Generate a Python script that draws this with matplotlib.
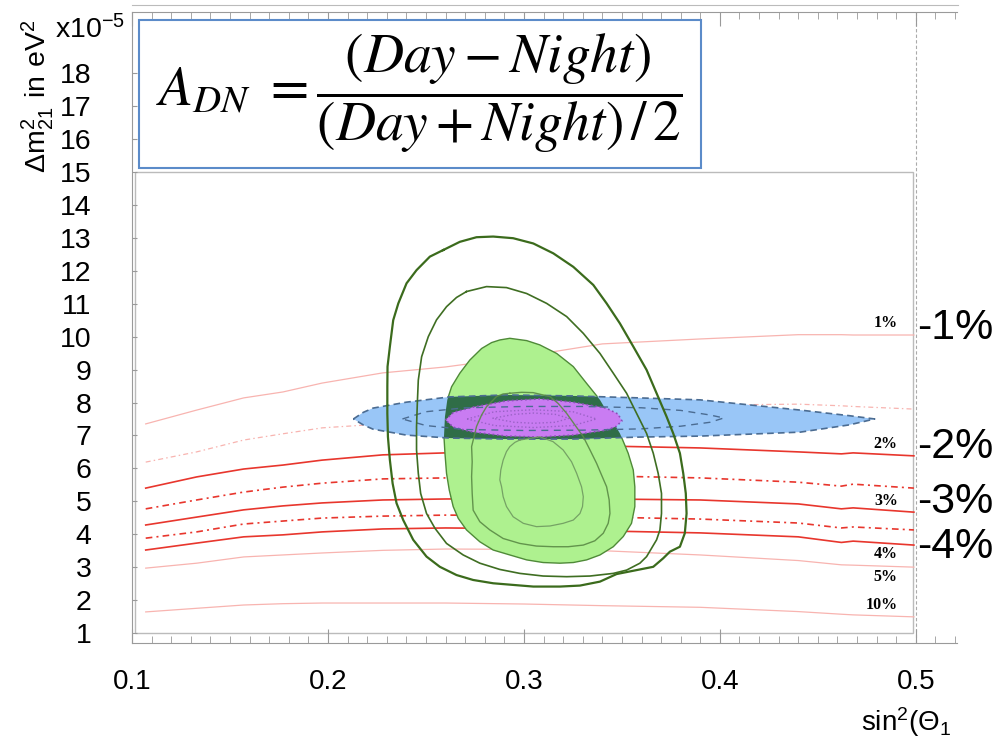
import numpy as np
import matplotlib.pyplot as plt
from matplotlib.patches import Polygon, Rectangle
from matplotlib.lines import Line2D

plt.rcParams['font.family'] = ['Liberation Sans', 'DejaVu Sans']

# iso-lines of the day/night asymmetry (sin^2 theta vs dm^2 in 1e-5 eV^2)
x_iso = [0.107, 0.133, 0.157, 0.177, 0.197, 0.228, 0.26, 0.30, 0.34, 0.39, 0.44, 0.462, 0.468, 0.499]
adn_1 = [7.35, 7.77, 8.14, 8.32, 8.59, 8.90, 9.08, 9.40, 9.78, 9.93, 10.06, 10.06, 10.05, 10.05]
adn_1p5 = [6.19, 6.50, 6.86, 7.05, 7.23, 7.35, 7.50, 7.65, 7.80, 7.92, 7.95, 7.90, 7.88, 7.80]
adn_2 = [5.40, 5.74, 5.98, 6.10, 6.25, 6.41, 6.47, 6.58, 6.68, 6.62, 6.50, 6.44, 6.47, 6.38]
adn_2p5 = [4.77, 5.04, 5.28, 5.43, 5.55, 5.68, 5.71, 5.75, 5.77, 5.71, 5.58, 5.46, 5.52, 5.40]
adn_3 = [4.28, 4.52, 4.74, 4.86, 4.95, 5.04, 5.07, 5.08, 5.07, 5.04, 4.92, 4.77, 4.80, 4.67]
adn_3p5 = [3.88, 4.07, 4.31, 4.40, 4.49, 4.55, 4.58, 4.57, 4.52, 4.46, 4.34, 4.19, 4.22, 4.13]
adn_4 = [3.52, 3.73, 3.92, 3.98, 4.07, 4.16, 4.19, 4.17, 4.10, 4.04, 3.92, 3.75, 3.79, 3.67]
adn_5 = [2.97, 3.12, 3.31, 3.37, 3.43, 3.51, 3.55, 3.54, 3.50, 3.37, 3.20, 3.07, 3.06, 3.00]
adn_10 = [1.64, 1.75, 1.85, 1.89, 1.91, 1.91, 1.91, 1.88, 1.83, 1.78, 1.65, 1.57, 1.55, 1.49]

iso_labels = ['1%', '2%', '3%', '4%', '5%', '10%']
iso_label_y = [10.41, 6.74, 5.01, 3.40, 2.70, 1.85]
asym_labels = ['-1%', '-2%', '-3%', '-4%']
asym_label_y = [10.26, 6.65, 4.98, 3.61]

# solar allowed region (filled) and contours
sk_x = [0.2877, 0.2928, 0.3014, 0.3081, 0.3167, 0.3252, 0.3320, 0.3388, 0.3439, 0.3490, 0.3532,
        0.3558, 0.3566, 0.3566, 0.3549, 0.3507, 0.3456, 0.3388, 0.3320, 0.3252, 0.3184, 0.3098,
        0.3014, 0.2928, 0.2843, 0.2775, 0.2707, 0.2665, 0.2639, 0.2619, 0.2605, 0.2597, 0.2592,
        0.2597, 0.2609, 0.2631, 0.2673, 0.2724, 0.2784, 0.2835]
sk_y = [9.90, 9.95, 9.88, 9.75, 9.49, 9.09, 8.58, 8.08, 7.57, 7.06, 6.46,
        5.95, 5.44, 4.84, 4.33, 3.93, 3.62, 3.37, 3.22, 3.14, 3.12, 3.14,
        3.22, 3.37, 3.52, 3.77, 4.13, 4.48, 4.84, 5.34, 5.85, 6.46, 6.96,
        7.57, 8.08, 8.48, 8.89, 9.29, 9.64, 9.82]

outer_x = [0.2588, 0.2673, 0.2758, 0.2843, 0.2945, 0.3048, 0.3150, 0.3252, 0.3354, 0.3422, 0.3490,
           0.3558, 0.3626, 0.3677, 0.3728, 0.3762, 0.3796, 0.3813, 0.3826, 0.3830, 0.3821, 0.3796,
           0.3745, 0.3711, 0.3660, 0.3558, 0.3473, 0.3388, 0.3286, 0.3184, 0.3048, 0.2945, 0.2843,
           0.2741, 0.2656, 0.2571, 0.2503, 0.2435, 0.2384, 0.2350, 0.2330, 0.2316, 0.2306, 0.2303,
           0.2303, 0.2304, 0.2316, 0.2333, 0.2359, 0.2401, 0.2452, 0.2520]
outer_y = [12.63, 12.88, 13.02, 13.04, 12.99, 12.83, 12.53, 12.12, 11.57, 11.01, 10.40,
           9.70, 8.99, 8.28, 7.57, 7.06, 6.46, 5.85, 5.24, 4.63, 4.03, 3.62,
           3.47, 3.27, 3.01, 2.89, 2.79, 2.56, 2.44, 2.41, 2.41, 2.46, 2.51,
           2.61, 2.76, 3.01, 3.32, 3.83, 4.43, 4.94, 5.54, 6.25, 6.96, 7.67,
           8.48, 9.09, 9.70, 10.50, 11.01, 11.62, 12.02, 12.43]
mid_x = [0.2707, 0.2809, 0.2911, 0.3014, 0.3116, 0.3218, 0.3303, 0.3388, 0.3456, 0.3524, 0.3575,
         0.3626, 0.3660, 0.3685, 0.3702, 0.3702, 0.3694, 0.3677, 0.3626, 0.3592, 0.3524, 0.3456,
         0.3337, 0.3218, 0.3098, 0.2979, 0.2877, 0.2775, 0.2690, 0.2605, 0.2546, 0.2503, 0.2473,
         0.2461, 0.2452, 0.2452, 0.2456, 0.2461, 0.2478, 0.2512, 0.2554, 0.2605, 0.2656]
mid_y = [11.37, 11.52, 11.49, 11.31, 11.01, 10.61, 10.10, 9.49, 8.89, 8.28, 7.67,
         7.06, 6.46, 5.85, 5.24, 4.63, 4.13, 3.83, 3.32, 3.12, 2.91, 2.81,
         2.73, 2.71, 2.73, 2.81, 2.93, 3.12, 3.37, 3.72, 4.18, 4.63, 5.24,
         5.85, 6.56, 7.27, 7.97, 8.68, 9.39, 10.00, 10.51, 10.91, 11.19]
in1_x = [0.2928, 0.2988, 0.3047, 0.3133, 0.3175, 0.3218, 0.3260, 0.3303, 0.3337, 0.3371, 0.3396,
         0.3422, 0.3435, 0.3439, 0.3430, 0.3405, 0.3362, 0.3303, 0.3226, 0.3150, 0.3064, 0.2979,
         0.2894, 0.2826, 0.2775, 0.2741, 0.2736, 0.2733, 0.2736, 0.2733, 0.2758, 0.2784, 0.2809,
         0.2860, 0.2894]
in1_y = [8.28, 8.31, 8.30, 8.18, 7.97, 7.67, 7.32, 6.96, 6.56, 6.15, 5.80,
         5.44, 5.04, 4.63, 4.33, 4.03, 3.80, 3.67, 3.62, 3.62, 3.64, 3.72,
         3.87, 4.13, 4.38, 4.73, 5.24, 5.75, 6.20, 6.66, 7.27, 7.62, 7.87,
         8.18, 8.26]
in2_x = [0.2979, 0.3081, 0.3149, 0.3200, 0.3243, 0.3269, 0.3294, 0.3303, 0.3299, 0.3286, 0.3252,
         0.3200, 0.3133, 0.3064, 0.2997, 0.2945, 0.2911, 0.2894, 0.2886, 0.2877, 0.2882, 0.2894,
         0.2911, 0.2928, 0.2954]
in2_y = [6.86, 6.96, 6.81, 6.56, 6.20, 5.85, 5.44, 5.14, 4.84, 4.63, 4.43,
         4.33, 4.25, 4.23, 4.33, 4.53, 4.84, 5.14, 5.44, 5.65, 5.95, 6.25,
         6.51, 6.66, 6.79]

# reactor allowed region (blue) and combined region (magenta)
kl_x = [0.213, 0.218, 0.223, 0.240, 0.262, 0.291, 0.325, 0.359, 0.390, 0.441, 0.466, 0.479,
        0.466, 0.441, 0.390, 0.359, 0.325, 0.291, 0.262, 0.240, 0.223, 0.218]
kl_y = [7.50, 7.70, 7.83, 8.01, 8.17, 8.23, 8.20, 8.14, 8.08, 7.77, 7.60, 7.50,
        7.32, 7.10, 6.98, 6.95, 6.89, 6.89, 6.92, 7.01, 7.19, 7.32]
kl_in_x = [0.238, 0.25, 0.27, 0.30, 0.33, 0.36, 0.38, 0.395, 0.402, 0.395, 0.38, 0.36,
           0.33, 0.30, 0.27, 0.25, 0.238]
kl_in_y = [7.50, 7.72, 7.84, 7.88, 7.88, 7.84, 7.76, 7.62, 7.53, 7.40, 7.28, 7.20,
           7.16, 7.15, 7.18, 7.30, 7.50]
gl_x = [0.260, 0.264, 0.274, 0.291, 0.308, 0.325, 0.342, 0.348, 0.350, 0.347, 0.342, 0.325,
        0.308, 0.291, 0.274, 0.264]
gl_y = [7.47, 7.70, 7.86, 8.05, 8.11, 8.01, 7.83, 7.65, 7.44, 7.27, 7.16, 7.01,
        6.95, 6.98, 7.10, 7.25]
gl_in1_x = [0.271, 0.285, 0.305, 0.325, 0.337, 0.325, 0.305, 0.285, 0.271]
gl_in1_y = [7.50, 7.72, 7.78, 7.72, 7.50, 7.30, 7.24, 7.30, 7.50]
gl_in2_x = [0.284, 0.295, 0.305, 0.316, 0.323, 0.316, 0.305, 0.295, 0.284]
gl_in2_y = [7.52, 7.64, 7.68, 7.64, 7.52, 7.40, 7.37, 7.40, 7.52]

red = '#e8362d'
pink = '#f8b4b0'
dashdot = (0, (4, 2.5, 1.2, 2.5))

fig = plt.figure(figsize=(10.02, 7.48), dpi=100)
ax = fig.add_axes([132 / 1002, 105 / 748, 825 / 1002, 631 / 748])
ax.set_xlim(0.1, 0.521)
ax.set_ylim(0.696, 19.86)

# inner frame and the dashed line at 0.5
ax.add_patch(Rectangle((0.1015, 1.0), 0.397, 14.0, fill=False, ec='#bbbbbb', lw=1, zorder=1))
ax.axvline(0.5, color='#aaaaaa', ls=(0, (3, 2)), lw=0.8, zorder=1)

iso = [(adn_1, pink, '-', 0.9), (adn_1p5, pink, dashdot, 0.9), (adn_2, red, '-', 1.2),
       (adn_2p5, red, dashdot, 1.2), (adn_3, red, '-', 1.2), (adn_3p5, red, dashdot, 1.2),
       (adn_4, red, '-', 1.2), (adn_5, pink, '-', 0.9), (adn_10, pink, '-', 0.9)]
for yv, c, ls, lw in iso:
    ax.plot(x_iso, yv, color=c, ls=ls, lw=lw, zorder=2)

for lab, yv in zip(iso_labels, iso_label_y):
    ax.text(0.4908, yv, lab, ha='right', va='center', fontsize=11.5, fontweight='bold',
            family='Liberation Serif', zorder=8)
for lab, yv in zip(asym_labels, asym_label_y):
    ax.text(0.5005, yv, lab, ha='left', va='center', fontsize=31, clip_on=False, zorder=8)

green = Polygon(np.column_stack([sk_x, sk_y]), closed=True, fc='#aef18f', ec='#4f8a38', lw=1, zorder=3)
ax.add_patch(green)
ax.add_patch(Polygon(np.column_stack([kl_x, kl_y]), closed=True, fc='#99c6f7', ec='none', zorder=4))
overlap = Polygon(np.column_stack([kl_x, kl_y]), closed=True, fc='#2f6d47', ec='none', zorder=5)
ax.add_patch(overlap)
overlap.set_clip_path(green)
ax.plot(kl_x + kl_x[:1], kl_y + kl_y[:1], color='#4b6c92', ls=(0, (4, 2.5)), lw=1.2, zorder=5.5)
ax.plot(kl_in_x, kl_in_y, color='#4b6c92', ls=(0, (5, 4)), lw=1.0, zorder=6.5)

ax.add_patch(Polygon(np.column_stack([gl_x, gl_y]), closed=True, fc='#c97cf2', ec='#8a4cb8',
                     ls=':', lw=1.2, zorder=6))
ax.plot(gl_in1_x, gl_in1_y, color='#9a62c6', ls=':', lw=1.0, zorder=6.6)
ax.plot(gl_in2_x, gl_in2_y, color='#9a62c6', ls=':', lw=1.0, zorder=6.6)

ax.plot(outer_x + outer_x[:1], outer_y + outer_y[:1], color='#3b6b1c', lw=1.6, zorder=7)
ax.plot(mid_x + mid_x[:1], mid_y + mid_y[:1], color='#3f6e22', lw=1.2, zorder=7)
ax.plot(in1_x + in1_x[:1], in1_y + in1_y[:1], color='#5a8a45', lw=1.0, alpha=0.9, zorder=7)
ax.plot(in2_x + in2_x[:1], in2_y + in2_y[:1], color='#6f9a60', lw=0.9, alpha=0.9, zorder=7)

# axes styling
ax.set_xticks([0.1, 0.2, 0.3, 0.4, 0.5])
ax.set_xticklabels(['0.1', '0.2', '0.3', '0.4', '0.5'])
ax.set_xticks(np.arange(0.1, 0.5205, 0.01), minor=True)
ax.set_yticks(range(1, 19))
ax.tick_params(axis='x', which='major', direction='in', length=10, top=True, pad=19,
               labelsize=20, color='#999999')
ax.tick_params(axis='x', which='minor', direction='in', length=5, top=True, color='#999999')
ax.tick_params(axis='y', which='major', direction='in', length=3.5, pad=29, labelsize=20.5,
               color='#999999', right=False)
ax.spines['right'].set_visible(False)
for s in ['left', 'bottom', 'top']:
    ax.spines[s].set_color('#9a9a9a')
    ax.spines[s].set_linewidth(0.8)

fig.add_artist(Line2D([132 / 1002, 958 / 1002], [1 - 5 / 748] * 2, color='#bbbbbb', lw=0.8))

fig.text(38 / 1002, 1 - 96 / 748, r'$\mathregular{\Delta m^2_{21}\ in\ eV^2}$', rotation=90,
         fontsize=20.5, ha='center', va='center')
fig.text(55 / 1002, 1 - 30 / 748, r'$\mathregular{x10^{-5}}$', fontsize=20.5, ha='left', va='center')
fig.text(906 / 1002, 1 - 722 / 748, r'$\mathregular{sin^2(\Theta_1}$', fontsize=20,
         ha='center', va='center')

# formula box
fig.add_artist(Rectangle((139 / 1002, 1 - 168 / 748), 562 / 1002, 148 / 748, transform=fig.transFigure,
                         fc='white', ec='#5b8bc9', lw=1.5, zorder=10))
fig.text(419 / 1002, 1 - 93 / 748, r'$A_{DN}\ =\dfrac{(Day-Night)}{(Day+Night)\,/\,2}$',
         fontsize=40, math_fontfamily='stix', ha='center', va='center', zorder=11)

fig.savefig('out.png', dpi=100)
